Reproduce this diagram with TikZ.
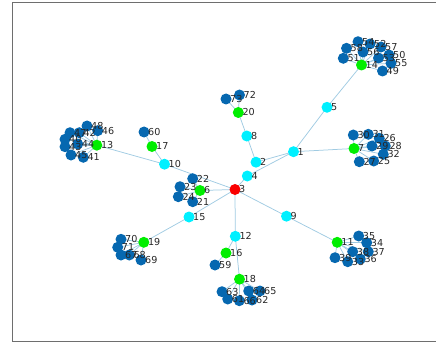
\documentclass[tikz,border=0pt]{standalone}
\usepackage{fontspec}
\setmainfont{DejaVu Sans}
\definecolor{edgeblue}{RGB}{160,203,226}
\definecolor{leafblue}{RGB}{6,104,176}
\definecolor{hubcyan}{RGB}{0,240,255}
\definecolor{hubgreen}{RGB}{0,238,0}
\definecolor{rootred}{RGB}{250,0,0}
\definecolor{framegray}{RGB}{110,110,110}
\begin{document}
\begin{tikzpicture}[x=1pt,y=-1pt,
  vert/.style={circle,inner sep=0pt,minimum size=11pt},
  root/.style={vert,fill=rootred},
  cyanv/.style={vert,fill=hubcyan},
  greenv/.style={vert,fill=hubgreen},
  leaf/.style={vert,fill=leafblue},
  link/.style={draw=edgeblue,line width=0.75pt},
  lab/.style={anchor=west,inner sep=0pt,text=black!85,font=\fontsize{9.6}{11}\selectfont}]
\useasboundingbox (0,0) rectangle (436,342);
% axes frame (open on the right)
\draw[framegray,line width=0.9pt] (436,2.3) -- (12.3,2.3) -- (12.3,341) -- (436,341);

% vertex positions
\foreach \n/\x/\y in {
  1/293.5/151.7, 2/256/162.2, 3/235/189.5, 4/247.3/176,
  5/327/107.3, 6/200/190.5, 7/354/148.5, 8/246.8/136,
  9/286.5/216.2, 10/164.5/164.2, 11/337.2/242.3, 12/235.3/236.3,
  13/96.8/145.2, 14/361.5/65, 15/189/217, 16/226/253,
  17/152/146.5, 18/239.5/279.2, 19/143.8/242.3, 20/238.3/112.5,
  21/192.7/201.7, 22/192.7/178.7, 23/180/186.7, 24/178.3/196.7,
  25/373.7/161, 26/379.3/138.3, 27/359.3/161.7, 28/385.3/146,
  29/372/146, 30/353.3/135, 31/368.3/134.3, 32/383.3/154.3,
  33/347.7/261.7, 34/366.7/242.7, 35/358.7/236, 36/360.3/259,
  37/368.3/251.7, 38/352.7/251.7, 39/335/257.7,
  40/65/139.3, 41/83.3/157.3, 42/79.3/132.7, 43/65/146.7,
  44/77.7/144, 45/71/155, 46/97.7/130.7, 47/70/132.7, 48/87/126,
  49/382.5/71, 50/389/55, 51/343.3/58.3, 52/370/44, 53/378.5/58,
  54/358/41.7, 55/391/63.3, 56/363/52, 57/381/47, 58/346.5/48.3,
  59/215/265, 60/144/132,
  61/227.7/299, 62/252/300, 63/222/291.7, 64/248.7/291,
  65/260/291, 66/239.3/300.7,
  67/121/255, 68/129.3/255, 69/141/260, 70/121/239.3, 71/117.7/247.3,
  72/239.5/95, 73/226/99}
  \coordinate (p\n) at (\x,\y);

% edges
\foreach \a/\b in {3/4, 4/1, 1/2, 2/8, 8/20, 20/73, 20/72, 1/5, 5/14, 1/7,
  3/9, 9/11, 3/12, 12/16, 16/59, 12/18, 3/15, 15/19, 3/10, 10/13, 10/17, 17/60, 3/6}
  \draw[link] (p\a) -- (p\b);
\foreach \b in {49,...,58} \draw[link] (p14) -- (p\b);
\foreach \b in {25,...,32} \draw[link] (p7) -- (p\b);
\foreach \b in {33,...,39} \draw[link] (p11) -- (p\b);
\foreach \b in {61,...,66} \draw[link] (p18) -- (p\b);
\foreach \b in {67,...,71} \draw[link] (p19) -- (p\b);
\foreach \b in {40,...,48} \draw[link] (p13) -- (p\b);
\foreach \b in {21,...,24} \draw[link] (p6) -- (p\b);

% vertices
\foreach \n/\k in {1/cyanv, 2/cyanv, 3/root, 4/cyanv, 5/cyanv, 6/greenv, 7/greenv,
  8/cyanv, 9/cyanv, 10/cyanv, 11/greenv, 12/cyanv, 13/greenv, 14/greenv, 15/cyanv,
  16/greenv, 17/greenv, 18/greenv, 19/greenv, 20/greenv}
  \node[\k] (n\n) at (p\n) {};
\foreach \n in {21,...,73}
  \node[leaf] (n\n) at (p\n) {};

% vertex labels
\foreach \n in {1,...,73}
  \node[lab] (l\n) at ([xshift=4pt]p\n) {\n};
\end{tikzpicture}
\end{document}
